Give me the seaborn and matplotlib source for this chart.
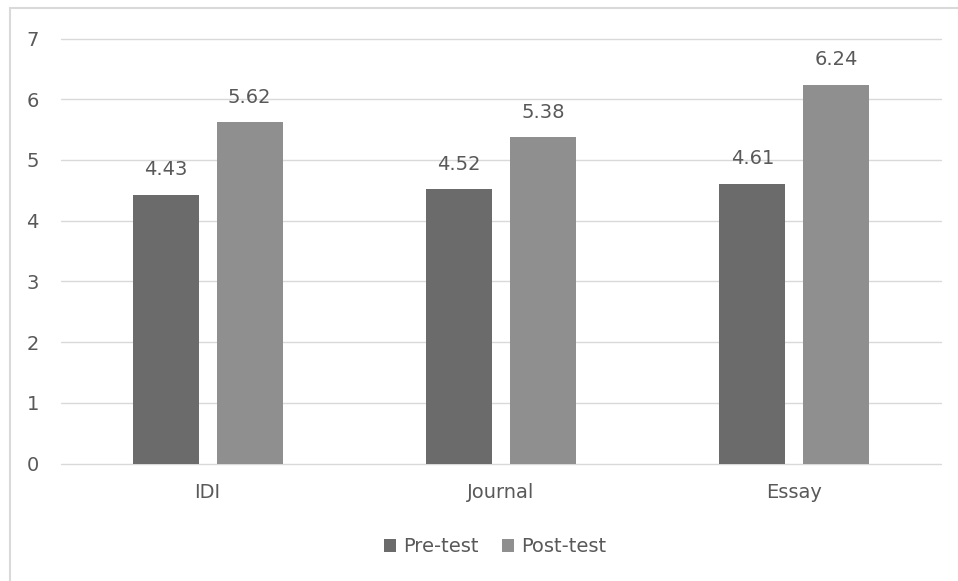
import matplotlib
matplotlib.use("Agg")
import matplotlib.pyplot as plt
from matplotlib.lines import Line2D
from matplotlib.patches import Patch
import seaborn as sns
import pandas as pd

categories = ["IDI", "Journal", "Essay"]
pre_test = [4.43, 4.52, 4.61]
post_test = [5.62, 5.38, 6.24]
series = ["Pre-test", "Post-test"]
yticks = [0, 1, 2, 3, 4, 5, 6, 7]

df = pd.DataFrame({
    "cat": categories * 2,
    "val": pre_test + post_test,
    "series": [series[0]] * 3 + [series[1]] * 3,
})

sns.set_theme(style="white")
plt.rcParams["font.family"] = ["DejaVu Sans"]
TXT = "#595959"
FS = 14
palette = {"Pre-test": "#6b6b6b", "Post-test": "#8f8f8f"}

fig = plt.figure(figsize=(9.58, 5.81), dpi=100)
ax = fig.add_axes([61 / 958, 1 - 463.5 / 581, 880 / 958, 425 / 581])

sns.barplot(data=df, x="cat", y="val", hue="series", order=categories,
            hue_order=series, palette=palette, width=0.573, gap=0.214,
            saturation=1, ax=ax, legend=False, linewidth=0)

for c in ax.containers:
    ax.bar_label(c, labels=[f"{v:.2f}" for v in c.datavalues], padding=11,
                 color=TXT, fontsize=FS)

ax.set_xlim(-0.5, 2.5)
ax.set_ylim(0, 7)
ax.set_yticks(yticks)
ax.set_yticklabels([str(t) for t in yticks])
ax.yaxis.grid(True, color="#d9d9d9", linewidth=1, clip_on=False)
ax.set_axisbelow(True)
for s in ax.spines.values():
    s.set_visible(False)
ax.tick_params(axis="both", length=0, colors=TXT, labelsize=FS)
ax.tick_params(axis="y", pad=16)
ax.tick_params(axis="x", pad=14)
ax.set_xlabel("")
ax.set_ylabel("")

handles = [Patch(facecolor=palette[s], edgecolor="none") for s in series]
fig.legend(handles, series, loc="center", bbox_to_anchor=(495 / 958, 1 - 547 / 581),
           ncol=2, frameon=False, fontsize=FS, handlelength=0.62, handleheight=0.62,
           handletextpad=0.35, columnspacing=1.2, labelcolor=TXT)

fig.add_artist(Line2D([9.5 / 958, 9.5 / 958], [0, 1 - 8 / 581], color="#d9d9d9", lw=1.5,
                      transform=fig.transFigure))
fig.add_artist(Line2D([9.5 / 958, 1], [1 - 8 / 581, 1 - 8 / 581], color="#d9d9d9", lw=1.5,
                      transform=fig.transFigure))

fig.savefig("out.png", dpi=100, facecolor="white")
